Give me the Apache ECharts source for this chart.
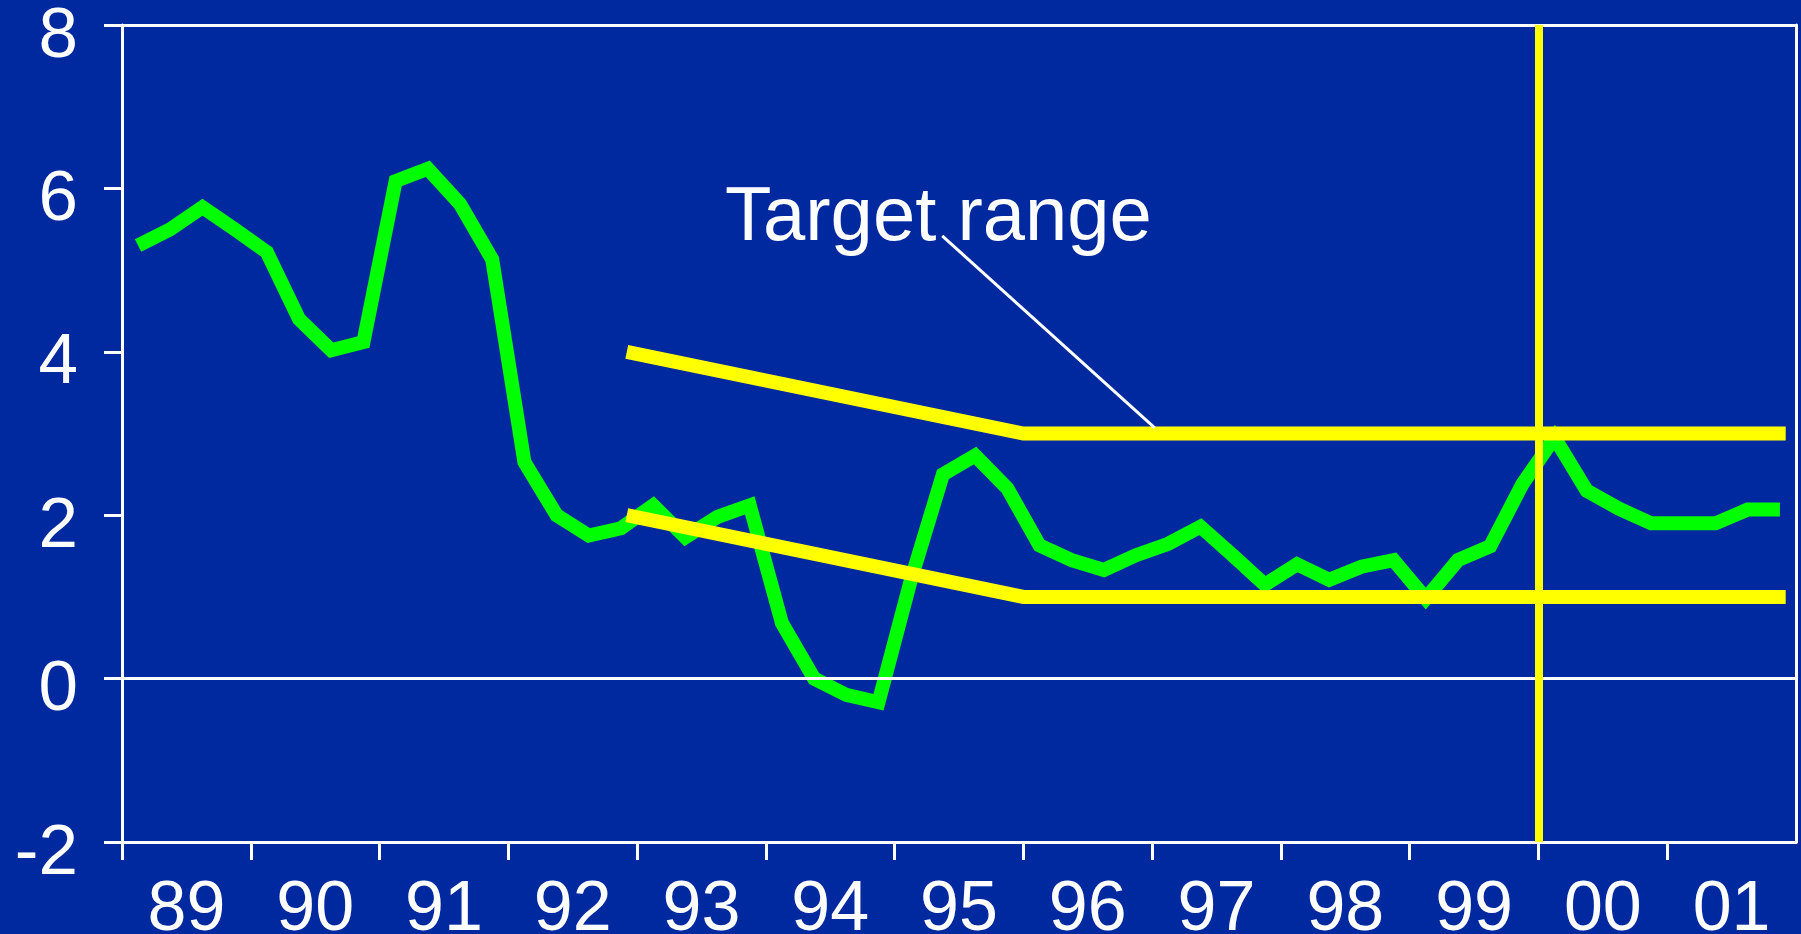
<!DOCTYPE html>
<html>
<head>
<meta charset="utf-8">
<title>Inflation and target range</title>
<script src="https://cdn.jsdelivr.net/npm/echarts@6/dist/echarts.min.js"></script>
<style>
  html, body { margin: 0; padding: 0; background: #0029A0; }
  #chart { width: 1801px; height: 934px; }
</style>
</head>
<body>
<div id="chart"></div>
<script>
// Year labels under the x axis, one per calendar year
const yearLabels = ['89', '90', '91', '92', '93', '94', '95', '96', '97', '98', '99', '00', '01'];
const firstYear = 1989;

// Quarterly inflation, % (1989 Q1 ... 2001 Q4)
const inflation = [
  5.30, 5.50, 5.77, 5.50,
  5.22, 4.40, 4.02, 4.12,
  6.09, 6.24, 5.81, 5.13,
  2.65, 2.00, 1.75, 1.84,
  2.12, 1.73, 1.98, 2.12,
  0.68, 0.00, -0.20, -0.29,
  1.20, 2.50, 2.73, 2.33,
  1.63, 1.45, 1.33, 1.51,
  1.65, 1.86, 1.51, 1.15,
  1.40, 1.21, 1.37, 1.45,
  0.98, 1.45, 1.62, 2.38,
  2.95, 2.30, 2.08, 1.90,
  1.90, 1.90, 2.07, 2.07
];

// Target range band edges
const targetDates = [1992.92, 1996.0, 2001.92];
const targetUpper = [4, 3, 3];
const targetLower = [2, 1, 1];

// Vertical marker year
const markerYear = 2000;

// Annotation text and its pointer
const annotationText = 'Target range';
const annotationAt = [1995.34, 5.63];
const pointerDates = [1995.37, 1997.02];
const pointerValues = [5.42, 3.07];

// Quarter midpoints as decimal years
const quarterDates = inflation.map((_, i) => firstYear + Math.floor(i / 4) + ((i % 4) + 0.5) / 4);
const zip = (xs, ys) => xs.map((x, i) => [x, ys[i]]);

const yearTicks = yearLabels.map((_, i) => firstYear + i);
const yearLabelPos = yearLabels.map((_, i) => firstYear + i + 0.5);
const lastYear = firstYear + yearLabels.length;

const WHITE = '#FFFFFF';
const GREEN = '#00FF00';
const YELLOW = '#FFFF00';
const FONT = '"Liberation Sans", Arial, Helvetica, sans-serif';

const chart = echarts.init(document.getElementById('chart'), null, { renderer: 'canvas' });

chart.setOption({
  backgroundColor: '#0029A0',
  animation: false,
  grid: {
    left: 122, right: 5, top: 25, bottom: 92,
    containLabel: false, outerBoundsMode: 'none'
  },
  xAxis: [
    {
      type: 'value', min: firstYear, max: lastYear, interval: 1,
      position: 'bottom',
      axisLine: { show: true, onZero: false, lineStyle: { color: WHITE, width: 3 } },
      axisTick: { show: true, length: 18, lineStyle: { color: WHITE, width: 3 }, customValues: yearTicks },
      axisLabel: {
        show: true, color: WHITE, fontSize: 70, fontFamily: FONT, margin: 34, lineHeight: 70,
        customValues: yearLabelPos,
        formatter: v => yearLabels[Math.floor(v) - firstYear]
      },
      splitLine: { show: false }
    },
    {
      type: 'value', min: firstYear, max: lastYear, position: 'top',
      axisLine: { show: true, onZero: false, lineStyle: { color: WHITE, width: 3 } },
      axisTick: { show: false }, axisLabel: { show: false }, splitLine: { show: false }
    }
  ],
  yAxis: [
    {
      type: 'value', min: -2, max: 8, interval: 2, position: 'left',
      axisLine: { show: true, onZero: false, lineStyle: { color: WHITE, width: 3 } },
      axisTick: { show: true, length: 18, lineStyle: { color: WHITE, width: 3 } },
      axisLabel: {
        show: true, color: WHITE, fontSize: 71, fontFamily: FONT, margin: 44,
        verticalAlign: 'top', lineHeight: 24
      },
      splitLine: { show: false }
    },
    {
      type: 'value', min: -2, max: 8, position: 'right',
      axisLine: { show: true, onZero: false, lineStyle: { color: WHITE, width: 3 } },
      axisTick: { show: false }, axisLabel: { show: false }, splitLine: { show: false }
    }
  ],
  series: [
    {
      name: 'Inflation', type: 'line', z: 2,
      data: zip(quarterDates, inflation),
      showSymbol: false, symbol: 'none',
      lineStyle: { color: GREEN, width: 14, cap: 'butt', join: 'miter', miterLimit: 4 }
    },
    {
      name: 'Zero', type: 'line', z: 3, data: [],
      markLine: {
        silent: true, symbol: ['none', 'none'], label: { show: false },
        lineStyle: { color: WHITE, width: 3, type: 'solid' },
        data: [{ yAxis: 0 }]
      }
    },
    {
      name: 'Target upper', type: 'line', z: 4,
      data: zip(targetDates, targetUpper),
      showSymbol: false, symbol: 'none',
      lineStyle: { color: YELLOW, width: 14, cap: 'butt', join: 'miter' }
    },
    {
      name: 'Target lower', type: 'line', z: 4,
      data: zip(targetDates, targetLower),
      showSymbol: false, symbol: 'none',
      lineStyle: { color: YELLOW, width: 14, cap: 'butt', join: 'miter' }
    },
    {
      name: 'Marker', type: 'line', z: 5, data: [],
      markLine: {
        silent: true, symbol: ['none', 'none'], label: { show: false },
        lineStyle: { color: YELLOW, width: 8, type: 'solid' },
        data: [{ xAxis: markerYear }]
      }
    },
    {
      name: 'Pointer', type: 'line', z: 6,
      data: zip(pointerDates, pointerValues),
      showSymbol: false, symbol: 'none',
      lineStyle: { color: WHITE, width: 3, cap: 'butt' }
    },
    {
      name: 'Annotation', type: 'scatter', z: 7,
      data: [annotationAt],
      symbolSize: 0,
      itemStyle: { opacity: 1 },
      label: {
        show: true, position: 'inside', formatter: annotationText,
        color: WHITE, opacity: 1, fontSize: 76, fontFamily: FONT,
        align: 'center', verticalAlign: 'middle',
        textBorderWidth: 0
      }
    }
  ]
});
</script>
</body>
</html>
